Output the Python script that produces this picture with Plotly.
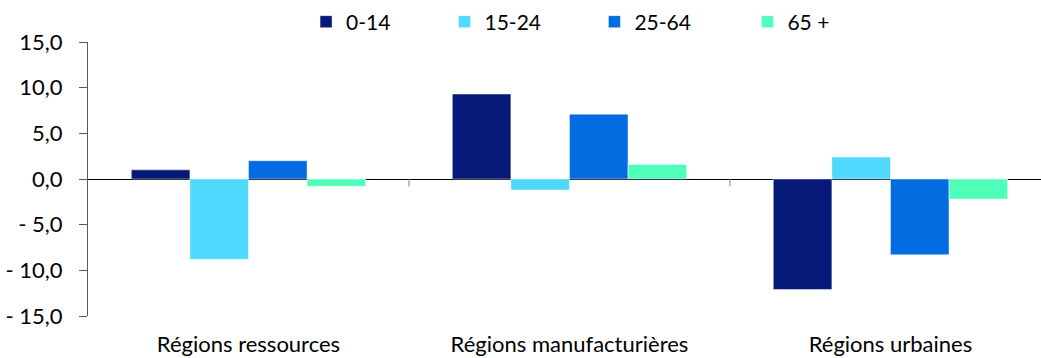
import plotly.graph_objects as go

# Population change by age group and region type
categories = ["Régions ressources", "Régions manufacturières", "Régions urbaines"]
age_groups = ["0-14", "15-24", "25-64", "65 +"]
values_0_14 = [1.0, 9.3, -12.1]
values_15_24 = [-8.8, -1.2, 2.4]
values_25_64 = [2.0, 7.1, -8.3]
values_65_plus = [-0.8, 1.6, -2.2]

y_tick_vals = [15, 10, 5, 0, -5, -10, -15]
y_tick_text = ["15,0", "10,0", "5,0", "0,0", "- 5,0", "- 10,0", "- 15,0"]

colors = ["#061979", "#4FD9FF", "#036CE0", "#4FFFB9"]
series = [values_0_14, values_15_24, values_25_64, values_65_plus]
legend_ids = ["legend", "legend2", "legend3", "legend4"]
legend_x = [0.294, 0.427, 0.571, 0.718]

FONT = "Lato"
FS = 22

fig = go.Figure()
for name, vals, col, lid in zip(age_groups, series, colors, legend_ids):
    fig.add_trace(go.Bar(
        x=list(range(len(categories))), y=vals, name=name,
        marker=dict(color=col, line=dict(color="rgba(255,255,255,0.45)", width=1)),
        legend=lid,
    ))

# category separators along the zero line
for sep in [0.5, 1.5]:
    fig.add_shape(type="line", xref="x", yref="y", x0=sep, x1=sep, y0=0, y1=-0.8,
                  line=dict(color="#7f7f7f", width=1))

legend_common = dict(orientation="h", xref="container", yref="container",
                     yanchor="middle", y=1 - 22 / 358, xanchor="left",
                     font=dict(family=FONT, size=FS - 1, color="#000000"),
                     bgcolor="rgba(0,0,0,0)")
layout_legends = {}
for lid, lx in zip(legend_ids, legend_x):
    layout_legends[lid] = dict(legend_common, x=lx)

fig.update_layout(
    width=1041, height=358,
    margin=dict(l=88, r=0, t=42, b=42, autoexpand=False),
    plot_bgcolor="white", paper_bgcolor="white",
    barmode="group", bargap=0.27, bargroupgap=0,
    showlegend=True,
    font=dict(family=FONT, size=FS, color="#000000"),
    xaxis=dict(
        range=[-0.5, 2.469], tickmode="array",
        tickvals=list(range(len(categories))), ticktext=categories,
        showgrid=False, zeroline=False, showline=False,
        ticks="", ticklabelstandoff=13,
        tickfont=dict(family=FONT, size=FS, color="#000000"),
    ),
    yaxis=dict(
        range=[-15, 15], tickmode="array",
        tickvals=y_tick_vals, ticktext=y_tick_text,
        showgrid=False, zeroline=True, zerolinecolor="#000000", zerolinewidth=1,
        showline=True, linecolor="#595959", linewidth=1,
        ticks="outside", ticklen=8, tickcolor="#595959",
        ticklabelstandoff=12,
        tickfont=dict(family=FONT, size=FS, color="#000000"),
    ),
    **layout_legends,
)

fig.write_html("out.html")
